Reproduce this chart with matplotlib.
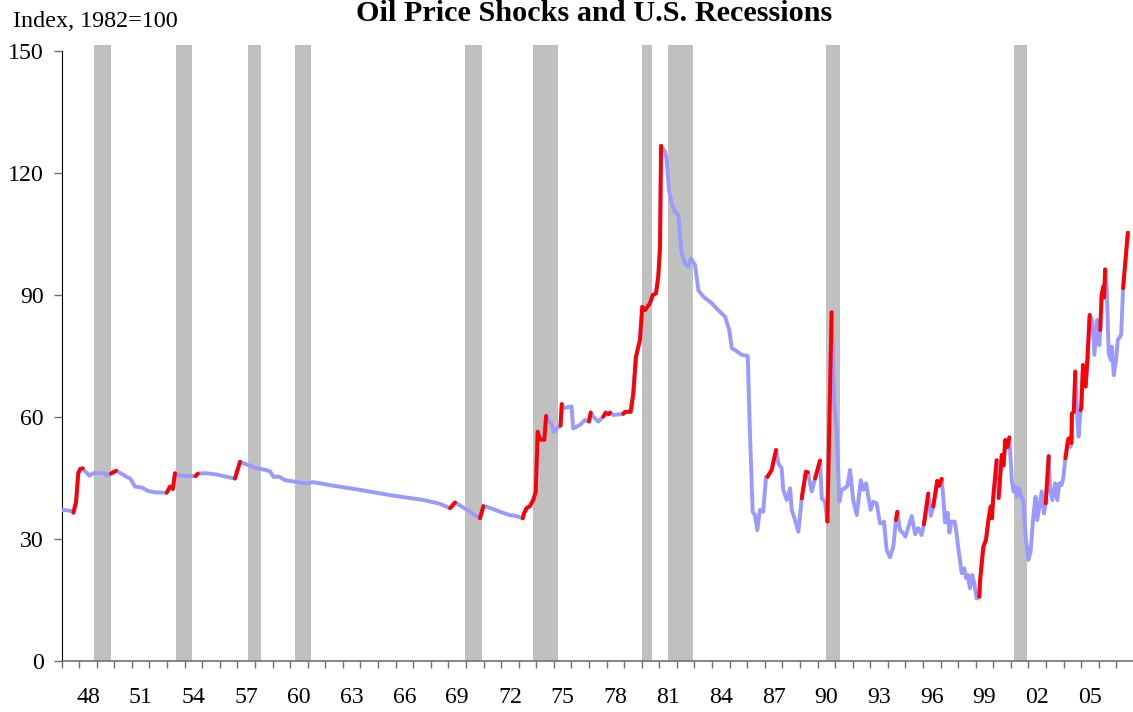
import matplotlib
matplotlib.use("Agg")
import matplotlib.pyplot as plt

plt.rcParams["font.family"] = ["Liberation Serif", "DejaVu Serif"]

# oil price index (1982=100); shock=1 -> segment to next point is red
year = [
    1947.00, 1947.25, 1947.60, 1947.67, 1947.82, 1947.95, 1948.05, 1948.20, 1948.27, 1948.58,
    1948.80, 1949.47, 1949.57, 1949.80, 1950.10, 1950.32, 1950.70, 1950.90, 1951.18, 1951.56,
    1951.93, 1952.31, 1952.98, 1953.17, 1953.33, 1953.45, 1953.60, 1954.30, 1954.62, 1954.75,
    1955.20, 1955.80, 1956.20, 1956.86, 1957.15, 1957.25, 1958.10, 1958.50, 1958.85, 1959.05,
    1959.35, 1959.70, 1960.30, 1960.94, 1961.30, 1962.50, 1963.97, 1965.70, 1967.60, 1968.50,
    1969.10, 1969.38, 1969.50, 1970.20, 1970.80, 1970.99, 1971.20, 1971.60, 1971.94, 1972.50,
    1972.85, 1973.23, 1973.30, 1973.45, 1973.64, 1973.83, 1973.97, 1974.08, 1974.21, 1974.46,
    1974.56, 1974.68, 1974.88, 1975.00, 1975.16, 1975.38, 1975.45, 1975.54, 1976.01, 1976.10,
    1976.49, 1976.77, 1977.00, 1977.10, 1977.24, 1977.53, 1977.81, 1977.95, 1978.05, 1978.12,
    1978.20, 1978.38, 1978.95, 1979.05, 1979.37, 1979.52, 1979.67, 1979.90, 1980.03, 1980.19,
    1980.47, 1980.62, 1980.81, 1980.94, 1981.04, 1981.10, 1981.32, 1981.42, 1981.55, 1981.70,
    1981.89, 1982.08, 1982.27, 1982.46, 1982.65, 1982.80, 1983.03, 1983.22, 1983.50, 1983.98,
    1984.35, 1984.74, 1984.98, 1985.12, 1985.30, 1985.50, 1985.69, 1986.03, 1986.15, 1986.31,
    1986.44, 1986.57, 1986.72, 1986.91, 1987.07, 1987.15, 1987.39, 1987.64, 1987.77, 1987.96,
    1988.05, 1988.25, 1988.44, 1988.53, 1988.72, 1988.91, 1989.10, 1989.34, 1989.45, 1989.67,
    1989.86, 1990.14, 1990.24, 1990.42, 1990.56, 1990.80, 1990.95, 1991.09, 1991.24, 1991.37,
    1991.56, 1991.70, 1991.85, 1992.03, 1992.23, 1992.46, 1992.60, 1992.76, 1992.89, 1993.02,
    1993.17, 1993.36, 1993.55, 1993.68, 1993.78, 1993.93, 1994.12, 1994.31, 1994.46, 1994.54,
    1994.69, 1994.88, 1995.00, 1995.15, 1995.36, 1995.55, 1995.73, 1995.92, 1996.05, 1996.30,
    1996.44, 1996.58, 1996.81, 1996.92, 1997.06, 1997.15, 1997.25, 1997.40, 1997.50, 1997.61,
    1997.80, 1997.88, 1998.06, 1998.20, 1998.35, 1998.45, 1998.55, 1998.67, 1998.80, 1998.92,
    1999.05, 1999.20, 1999.24, 1999.43, 1999.58, 1999.72, 1999.85, 1999.92, 1999.99, 2000.19,
    2000.30, 2000.48, 2000.58, 2000.68, 2000.80, 2000.91, 2001.05, 2001.15, 2001.25, 2001.33,
    2001.47, 2001.61, 2001.70, 2001.84, 2001.99, 2002.12, 2002.27, 2002.40, 2002.50, 2002.65,
    2002.75, 2002.88, 2002.98, 2003.15, 2003.23, 2003.36, 2003.51, 2003.64, 2003.75, 2003.88,
    2003.98, 2004.04, 2004.10, 2004.25, 2004.31, 2004.38, 2004.44, 2004.47, 2004.58, 2004.66,
    2004.77, 2004.85, 2004.96, 2005.00, 2005.10, 2005.25, 2005.35, 2005.48, 2005.62, 2005.75,
    2005.90, 2006.03, 2006.08, 2006.16, 2006.26, 2006.30, 2006.36, 2006.45, 2006.56, 2006.69,
    2006.74, 2006.85, 2006.98, 2007.08, 2007.27, 2007.38, 2007.65,
]
index_value = [
    37.0, 37.0, 36.8, 36.4, 38.9, 46.1, 47.1, 47.3, 46.9, 45.5,
    46.1, 46.1, 45.5, 46.0, 46.7, 46.2, 45.2, 44.8, 42.8, 42.6,
    41.7, 41.4, 41.3, 42.8, 42.2, 46.1, 45.6, 45.4, 45.4, 46.0,
    46.1, 45.8, 45.4, 44.8, 48.9, 48.7, 47.3, 47.0, 46.6, 45.2,
    45.3, 44.4, 44.0, 43.6, 43.9, 43.0, 42.0, 40.7, 39.5, 38.6,
    37.5, 38.9, 38.6, 36.7, 35.0, 38.0, 37.8, 37.2, 36.6, 35.8,
    35.6, 35.0, 36.2, 37.5, 38.0, 39.5, 41.6, 56.3, 54.4, 54.3,
    60.2, 59.2, 58.0, 56.3, 57.1, 57.8, 63.1, 62.1, 62.5, 57.1,
    58.0, 59.2, 58.8, 61.0, 60.0, 58.8, 60.0, 61.0, 60.5, 60.6,
    61.0, 60.4, 60.7, 61.2, 61.2, 65.7, 74.7, 78.9, 87.0, 86.2,
    87.9, 89.9, 90.3, 94.4, 101.8, 126.6, 125.2, 123.1, 115.7, 112.5,
    110.4, 109.6, 100.2, 97.7, 96.9, 98.9, 97.3, 91.1, 89.5, 87.9,
    86.2, 84.6, 81.3, 76.8, 76.4, 75.8, 75.2, 74.9, 56.7, 36.6,
    35.8, 32.1, 37.1, 36.6, 45.2, 45.2, 46.9, 51.8, 48.5, 47.3,
    42.0, 39.5, 42.4, 37.1, 34.6, 31.7, 39.9, 46.5, 46.3, 41.6,
    44.8, 49.2, 39.9, 39.1, 34.2, 85.7, 63.3, 56.7, 39.1, 42.0,
    42.4, 43.0, 46.9, 39.5, 35.8, 44.4, 42.0, 43.6, 40.3, 37.1,
    39.1, 38.7, 33.8, 33.8, 34.2, 27.2, 25.4, 28.0, 34.6, 36.6,
    32.1, 31.3, 30.5, 32.6, 35.6, 31.1, 32.6, 30.9, 33.5, 41.1,
    35.6, 37.9, 44.2, 43.0, 44.7, 40.3, 34.0, 36.4, 31.5, 34.2,
    34.2, 32.1, 26.0, 21.5, 22.7, 20.3, 21.1, 17.8, 21.1, 19.0,
    15.3, 15.7, 19.4, 28.0, 29.7, 34.6, 37.9, 35.0, 39.9, 49.3,
    40.0, 50.6, 48.0, 54.3, 52.5, 54.9, 44.4, 41.6, 42.8, 40.3,
    42.4, 39.9, 39.5, 30.5, 24.8, 26.8, 35.4, 40.3, 34.6, 38.7,
    41.6, 36.2, 38.7, 50.3, 42.0, 39.5, 43.6, 39.5, 43.6, 43.2,
    44.9, 47.3, 49.8, 54.3, 54.7, 52.6, 53.5, 60.8, 61.2, 71.1,
    60.4, 55.1, 61.6, 62.1, 72.7, 67.4, 73.9, 85.0, 83.8, 75.2,
    83.8, 77.6, 81.3, 89.9, 92.0, 89.3, 96.2, 92.0, 75.6, 73.9,
    77.2, 70.2, 73.9, 78.9, 80.1, 91.6, 105.2,
]
shock = [
    0, 0, 0, 1, 1, 1, 1, 0, 0, 0,
    0, 0, 0, 1, 0, 0, 0, 0, 0, 0,
    0, 0, 1, 0, 1, 0, 0, 0, 1, 0,
    0, 0, 0, 1, 0, 0, 0, 0, 0, 0,
    0, 0, 0, 0, 0, 0, 0, 0, 0, 0,
    1, 0, 0, 0, 1, 0, 0, 0, 0, 0,
    0, 1, 1, 1, 1, 1, 1, 1, 1, 1,
    0, 0, 0, 0, 0, 1, 0, 0, 0, 0,
    0, 0, 1, 0, 0, 0, 1, 0, 0, 1,
    0, 0, 1, 1, 1, 1, 1, 1, 1, 1,
    1, 1, 1, 1, 1, 0, 0, 0, 0, 0,
    0, 0, 0, 0, 0, 0, 0, 0, 0, 0,
    0, 0, 0, 0, 0, 0, 0, 0, 0, 0,
    0, 0, 0, 0, 0, 1, 1, 0, 0, 0,
    0, 0, 0, 0, 0, 0, 1, 1, 0, 0,
    1, 0, 0, 0, 1, 0, 0, 0, 0, 0,
    0, 0, 0, 0, 0, 0, 0, 0, 0, 0,
    0, 0, 0, 0, 0, 0, 0, 0, 1, 0,
    0, 0, 0, 0, 0, 0, 0, 0, 1, 0,
    0, 1, 1, 1, 0, 0, 0, 0, 0, 0,
    0, 0, 0, 0, 0, 0, 0, 0, 0, 0,
    0, 1, 1, 1, 1, 1, 1, 1, 1, 0,
    1, 0, 1, 1, 1, 0, 0, 0, 0, 0,
    0, 0, 0, 0, 0, 0, 0, 0, 0, 0,
    0, 0, 1, 0, 0, 0, 0, 0, 0, 0,
    0, 0, 1, 1, 0, 0, 1, 1, 1, 0,
    0, 0, 1, 1, 1, 1, 1, 0, 0, 0,
    0, 0, 1, 1, 1, 1, 0, 0, 0, 0,
    0, 0, 0, 0, 0, 1, 0,
]

# NBER recessions
rec_start = [1948.83, 1953.50, 1957.58, 1960.25, 1969.92, 1973.83, 1980.00, 1981.50, 1990.50, 2001.17]
rec_end = [1949.83, 1954.42, 1958.33, 1961.17, 1970.92, 1975.25, 1980.58, 1982.92, 1991.25, 2001.92]

y_ticks = [0, 30, 60, 90, 120, 150]
label_years = list(range(1948, 2006, 3))

W, H = 1133, 712
fig = plt.figure(figsize=(W / 100, H / 100), dpi=100)
x0, x_axis_y, top_px = 61.6, 660.7, 45.0
ax = fig.add_axes([x0 / W, (H - x_axis_y) / H, 1 - x0 / W, (x_axis_y - top_px) / H])

for s, e in zip(rec_start, rec_end):
    ax.axvspan(s, e, color="#C0C0C0", lw=0, zorder=1)

ax.plot(year, index_value, color="#9999FF", lw=2.8, zorder=3, solid_joinstyle="round")

# red pieces = oil price shocks
i = 0
while i < len(shock):
    if shock[i]:
        j = i
        while j < len(shock) and shock[j]:
            j += 1
        ax.plot(year[i:j + 1], index_value[i:j + 1], color="#FF0000", lw=2.8, zorder=4,
                solid_joinstyle="round", solid_capstyle="round")
        i = j
    else:
        i += 1

ax.set_xlim(1947, 1947 + (W - x0) / 17.58)
ax.set_ylim(0, (x_axis_y - top_px) / 4.067)

ax.spines["top"].set_visible(False)
ax.spines["right"].set_visible(False)
ax.spines["left"].set_bounds(0, 150)
ax.spines["left"].set_color("black")
ax.spines["bottom"].set_color("#707070")
ax.spines["bottom"].set_linewidth(1.2)

ax.set_yticks(y_ticks)
ax.set_yticklabels([str(v) for v in y_ticks])
ax.tick_params(axis="y", direction="out", length=5.8, width=1, color="#707070",
               pad=7.0, labelsize=17.2)

ax.set_xticks(list(range(1947, 2008)))
ax.set_xticklabels([])
ax.set_xticks([y + 0.5 for y in label_years], minor=True)
ax.set_xticklabels([str(y)[2:] for y in label_years], minor=True)
ax.tick_params(axis="x", which="major", direction="out", length=5, width=1, color="#707070")
ax.tick_params(axis="x", which="minor", length=0, pad=19, labelsize=17.2)

fig.text(594 / W, 1 - 21 / H, "Oil Price Shocks and U.S. Recessions", ha="center",
         va="baseline", fontsize=21.8, fontweight="bold")
fig.text(13 / W, 1 - 27 / H, "Index, 1982=100", ha="left", va="baseline", fontsize=17.4)

fig.savefig("out.png", dpi=100)
